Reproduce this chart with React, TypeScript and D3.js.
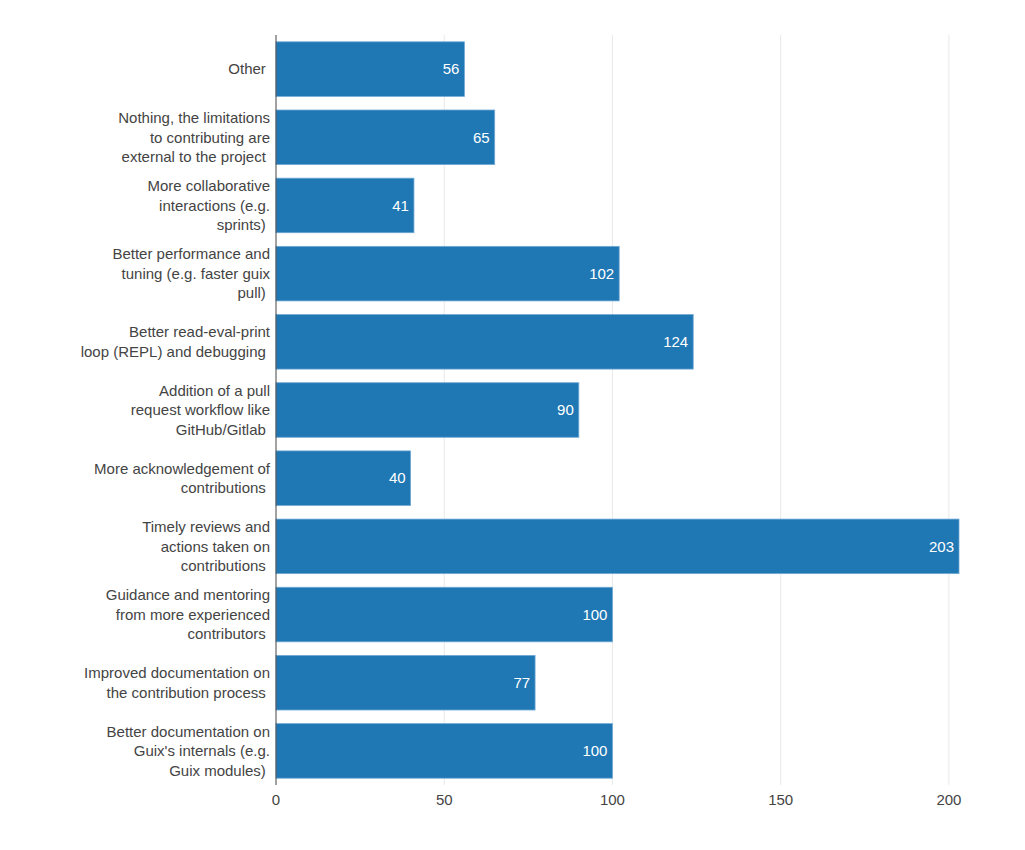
import * as d3 from "d3";

const categories: string[][] = [
  ["Other "],
  ["Nothing, the limitations", "to contributing are", "external to the project "],
  ["More collaborative", "interactions (e.g.", "sprints) "],
  ["Better performance and", "tuning (e.g. faster guix", "pull) "],
  ["Better read-eval-print", "loop (REPL) and debugging "],
  ["Addition of a pull", "request workflow like", "GitHub/Gitlab "],
  ["More acknowledgement of", "contributions "],
  ["Timely reviews and", "actions taken on", "contributions "],
  ["Guidance and mentoring", "from more experienced", "contributors "],
  ["Improved documentation on", "the contribution process "],
  ["Better documentation on", "Guix's internals (e.g.", "Guix modules) "],
];

const values = [56, 65, 41, 102, 124, 90, 40, 203, 100, 77, 100];
const ticks = [0, 50, 100, 150, 200];

const width = 1009;
const height = 834;
const left = 268;
const right = 951;
const top = 27;
const bottom = 777;

export default function App() {
  const idx = values.map((_, i) => String(i));
  const x = d3.scaleLinear().domain([0, 203]).range([left, right]);
  const y = d3
    .scaleBand()
    .domain(idx)
    .range([top, bottom])
    .paddingInner(0.2)
    .paddingOuter(0.1);

  const font = "'Liberation Sans', Arial, sans-serif";

  return (
    <svg width={width} height={height} style={{ display: "block", fontFamily: font }}>
      {ticks.slice(1).map((t) => (
        <line
          key={`g-${t}`}
          x1={x(t)}
          x2={x(t)}
          y1={top}
          y2={bottom}
          stroke="#e8e8e8"
          strokeWidth={1}
        />
      ))}

      {values.map((v, i) => (
        <g key={`b-${i}`}>
          <rect
            x={x(0)}
            y={y(String(i))}
            width={x(v) - x(0)}
            height={y.bandwidth()}
            fill="#1f77b4"
            stroke="#6fa8d4"
            strokeWidth={0.8}
          />
          <text
            x={x(v) - 5}
            y={y(String(i))! + y.bandwidth() / 2}
            dy="0.35em"
            textAnchor="end"
            fill="#fff"
            fontSize={15}
          >
            {v}
          </text>
        </g>
      ))}

      <line x1={x(0)} x2={x(0)} y1={top} y2={bottom} stroke="#444" strokeWidth={1} />

      {categories.map((lines, i) => {
        const cy = y(String(i))! + y.bandwidth() / 2;
        const lh = 19.5;
        const y0 = cy - ((lines.length - 1) * lh) / 2;
        return (
          <text
            key={`l-${i}`}
            textAnchor="end"
            fill="#444"
            fontSize={15}
            style={{ whiteSpace: "pre" }}
          >
            {lines.map((ln, j) => (
              <tspan key={j} x={x(0) - 6} y={y0 + j * lh} dy="0.35em">
                {ln}
              </tspan>
            ))}
          </text>
        );
      })}

      {ticks.map((t) => (
        <text
          key={`t-${t}`}
          x={x(t)}
          y={bottom + 15}
          dy="0.35em"
          textAnchor="middle"
          fill="#444"
          fontSize={15}
        >
          {t}
        </text>
      ))}
    </svg>
  );
}
